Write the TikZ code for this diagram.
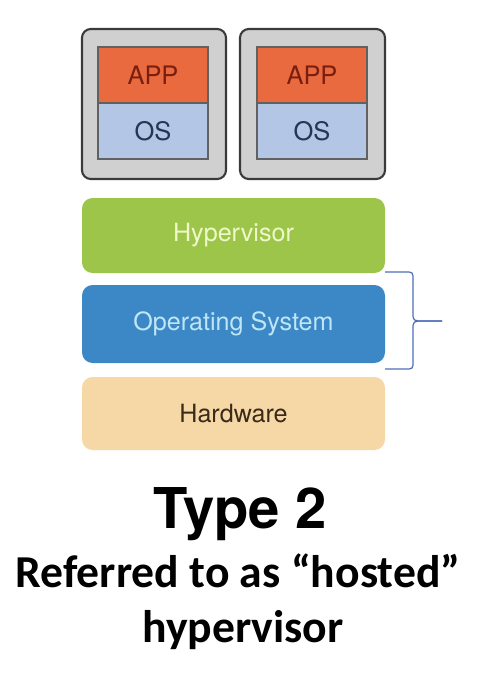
\documentclass[tikz,border=0pt]{standalone}
\usepackage{fontspec}
\usepackage{xcolor}
\usepackage{tikz}
\setmainfont{TeX Gyre Heros}
\newfontfamily\notefont{Carlito}

\definecolor{vmgray}{HTML}{D0D0D0}
\definecolor{vmedge}{HTML}{3A3A3A}
\definecolor{appfill}{HTML}{E96A3E}
\definecolor{apptext}{HTML}{7A1F10}
\definecolor{osfill}{HTML}{B3C6E6}
\definecolor{ostext}{HTML}{243650}
\definecolor{hypfill}{HTML}{9CC54A}
\definecolor{hyptext}{HTML}{EEF8C8}
\definecolor{sysfill}{HTML}{3C88C6}
\definecolor{systext}{HTML}{BEE6F6}
\definecolor{hwfill}{HTML}{F6D8A6}
\definecolor{hwtext}{HTML}{3A2A18}
\definecolor{bracecol}{HTML}{4D6FB5}

\tikzset{
  vmbox/.style={draw=vmedge,line width=1.2pt,fill=vmgray,rounded corners=5pt},
  layer/.style={rectangle,draw=vmedge!80,line width=0.6pt,minimum width=110*0.02cm,minimum height=56*0.02cm,font=\rmfamily\fontsize{14.5}{16}\selectfont},
  stack/.style={rectangle,rounded corners=6pt,minimum width=303*0.02cm,font=\rmfamily\fontsize{14.3}{16}\selectfont}
}

\begin{document}
\begin{tikzpicture}[x=0.02cm,y=-0.02cm]
\useasboundingbox (0,0) rectangle (477,677);

% virtual machines
\draw[vmbox] (82,29) rectangle (226,179);
\draw[vmbox] (240,29) rectangle (385,179);
\node[layer,fill=appfill,text=apptext] (app1) at (153,75) {APP};
\node[layer,fill=osfill,text=ostext] (os1) at (153,131) {OS};
\node[layer,fill=appfill,text=apptext] (app2) at (312,75) {APP};
\node[layer,fill=osfill,text=ostext] (os2) at (312,131) {OS};

% host layers
\node[stack,fill=hypfill,text=hyptext,minimum height=75*0.02cm] (hyp) at (233.5,235.5) {Hypervisor};
\node[stack,fill=sysfill,text=systext,minimum height=78*0.02cm] (hostos) at (233.5,324) {Operating System};
\node[stack,fill=hwfill,text=hwtext,minimum height=73*0.02cm] (hw) at (233.5,413.5) {Hardware};

% brace
\draw[bracecol,line width=0.7pt] (385,272) -- (405,272) .. controls (413,272) .. (413,280) -- (413,312)
  .. controls (413,321) .. (424,321) -- (442,321);
\draw[bracecol,line width=0.7pt] (442,321) -- (424,321) .. controls (413,321) .. (413,330) -- (413,361)
  .. controls (413,369) .. (405,369) -- (385,369);

% caption
\node[font=\rmfamily\bfseries\fontsize{32}{36}\selectfont,anchor=base] (title) at (240,528) {Type 2};
\node[font=\notefont\bfseries\fontsize{26}{30}\selectfont,anchor=base] (note1) at (238,587) {Referred to as “hosted”};
\node[font=\notefont\bfseries\fontsize{26}{30}\selectfont,anchor=base] (note2) at (243,642) {hypervisor};
\end{tikzpicture}
\end{document}
